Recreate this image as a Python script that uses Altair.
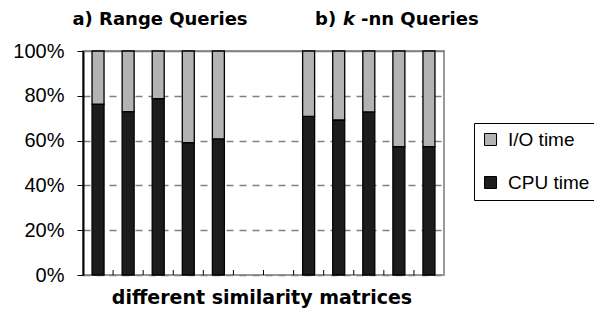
import altair as alt
import pandas as pd

# ---- data ----
categories = ["R1", "R2", "R3", "R4", "R5", "gap1", "gap2", "K1", "K2", "K3", "K4", "K5"]
bar_categories = ["R1", "R2", "R3", "R4", "R5", "K1", "K2", "K3", "K4", "K5"]
cpu_time = [76.3, 72.9, 78.7, 59.1, 60.8, 70.8, 69.2, 72.8, 57.3, 57.3]
io_time = [23.7, 27.1, 21.3, 40.9, 39.2, 29.2, 30.8, 27.2, 42.7, 42.7]
series = ["I/O time", "CPU time"]
series_colors = ["#b3b3b3", "#1c1c1c"]
y_ticks = [0, 20, 40, 60, 80, 100]
boundary_categories = categories[1:]
title_a = "a) Range Queries"
title_b = ["b)", "k", "-nn Queries"]
x_title = "different similarity matrices"

rows = []
for c, cpu, io in zip(bar_categories, cpu_time, io_time):
    rows.append({"cat": c, "series": "CPU time", "value": cpu, "ord": 0})
    rows.append({"cat": c, "series": "I/O time", "value": io, "ord": 1})
df = pd.DataFrame(rows)

W, H = 361, 224
xscale = alt.Scale(domain=categories, paddingInner=0, paddingOuter=0)
yscale = alt.Scale(domain=[0, 100], nice=False)

bars = alt.Chart(df).mark_bar(size=12, stroke="black", strokeWidth=1.3).encode(
    x=alt.X("cat:N", scale=xscale,
            axis=alt.Axis(labels=False, ticks=False, title=None, domainColor="black",
                          domainWidth=2, grid=False)),
    y=alt.Y("value:Q", stack="zero", scale=yscale,
            axis=alt.Axis(values=y_ticks, labelExpr="datum.value + '%'", title=None,
                          tickSize=6, tickColor="black", tickWidth=1,
                          domainColor="black", domainWidth=2,
                          labelFont="Liberation Sans", labelFontSize=20, labelColor="black",
                          labelPadding=13,
                          grid=True, gridColor="#808080", gridWidth=1.5,
                          gridDash={"condition": {"test": "datum.value >= 100", "value": [1, 0]},
                                    "value": [7, 6]})),
    color=alt.Color("series:N", scale=alt.Scale(domain=series, range=series_colors),
                    legend=alt.Legend(orient="none", legendX=391, legendY=72, title=None,
                                      symbolType="square", symbolSize=144,
                                      symbolStrokeColor="black", symbolStrokeWidth=1,
                                      labelFont="Liberation Sans", labelFontSize=19,
                                      labelColor="black", labelOffset=8,
                                      strokeColor="black", fillColor="white",
                                      padding=7, rowPadding=23)),
    order=alt.Order("ord:Q"),
)

ticks = alt.Chart(pd.DataFrame({"cat": boundary_categories})).mark_rule(
    color="black", strokeWidth=1).encode(
    x=alt.X("cat:N", scale=xscale, bandPosition=0, axis=None),
    y=alt.value(H),
    y2=alt.value(H - 5),
)

tfont = "DejaVu Sans"
ty = -26
tsize = 18
t_a = alt.Chart(pd.DataFrame({"t": [title_a]})).mark_text(
    font=tfont, fontWeight="bold", fontSize=tsize, align="center", baseline="alphabetic",
    color="black").encode(text="t:N", x=alt.value(77), y=alt.value(ty))
t_b1 = alt.Chart(pd.DataFrame({"t": [title_b[0]]})).mark_text(
    font=tfont, fontWeight="bold", fontSize=tsize, align="left", baseline="alphabetic",
    color="black").encode(text="t:N", x=alt.value(232), y=alt.value(ty))
t_b2 = alt.Chart(pd.DataFrame({"t": [title_b[1]]})).mark_text(
    font=tfont, fontWeight="bold", fontStyle="italic", fontSize=tsize, align="left",
    baseline="alphabetic", color="black").encode(text="t:N", x=alt.value(260), y=alt.value(ty))
t_b3 = alt.Chart(pd.DataFrame({"t": [title_b[2]]})).mark_text(
    font=tfont, fontWeight="bold", fontSize=tsize, align="left", baseline="alphabetic",
    color="black").encode(text="t:N", x=alt.value(278), y=alt.value(ty))
t_x = alt.Chart(pd.DataFrame({"t": [x_title]})).mark_text(
    font=tfont, fontWeight="bold", fontSize=19, align="center", baseline="alphabetic",
    color="black").encode(text="t:N", x=alt.value(179), y=alt.value(H + 29))

chart = alt.layer(bars, ticks, t_a, t_b1, t_b2, t_b3, t_x).properties(
    width=W, height=H,
    autosize=alt.AutoSizeParams(type="none"),
    padding={"left": 75, "top": 43, "right": 150, "bottom": 34},
    background="white",
).configure_view(stroke="#999999", strokeWidth=2)

chart.save("out.html", embed_options={"renderer": "svg", "actions": False})
